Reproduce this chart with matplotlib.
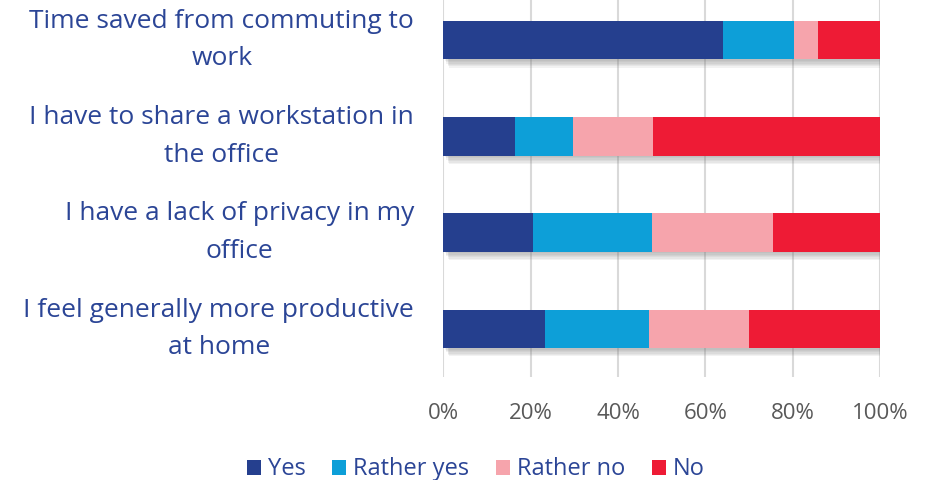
import matplotlib
matplotlib.use("Agg")
import matplotlib.pyplot as plt
import matplotlib.patheffects as pe
import numpy as np

plt.rcParams['font.family'] = ['Open Sans', 'DejaVu Sans']

categories = [
    "Time saved from commuting to\nwork",
    "I have to share a workstation in\nthe office",
    "I have a lack of privacy in my\noffice",
    "I feel generally more productive\nat home",
]
series_names = ["Yes", "Rather yes", "Rather no", "No"]
yes = [64.1, 16.4, 20.5, 23.2]
rather_yes = [16.2, 13.4, 27.4, 23.9]
rather_no = [5.6, 18.2, 27.7, 23.0]
no = [14.1, 52.0, 24.4, 29.9]
colors = ["#253F8E", "#0D9FD8", "#F6A4AC", "#EE1B35"]
tick_values = [0, 20, 40, 60, 80, 100]
tick_labels = ["0%", "20%", "40%", "60%", "80%", "100%"]

label_color = "#2B4596"
tick_color = "#595959"

fig = plt.figure(figsize=(9.31, 4.80), dpi=100)
ax = fig.add_axes([0.4762, 0.2146, 0.4690, 0.8020])

y = np.arange(len(categories))
left = np.zeros(len(categories))
for name, vals, c in zip(series_names, [yes, rather_yes, rather_no, no], colors):
    ax.barh(y, vals, left=left, height=0.4, color=c, label=name, zorder=3)
    left += np.array(vals)

# soft drop shadow beneath each whole bar, built from a few faint layers
soft_shadow = [pe.SimplePatchShadow(offset=(dx, -dy), shadow_rgbFace="#777777", alpha=0.09)
               for dx, dy in [(1, 1), (2, 2), (2, 3), (3, 4), (3, 5), (4, 6)]]
for i in range(len(categories)):
    ax.barh(y[i], left[i], height=0.4, color="none", zorder=2, path_effects=soft_shadow)

ax.set_ylim(len(categories) - 0.5, -0.5)
ax.set_xlim(0, 100)
ax.set_xticks(tick_values)
ax.set_xticklabels(tick_labels, color=tick_color, fontsize=16)
ax.set_yticks(y)
ax.set_yticklabels(categories, color=label_color, fontsize=19, ha="right", va="center",
                   multialignment="center", linespacing=1.65)
ax.tick_params(axis="y", length=0, pad=21)
ax.tick_params(axis="x", length=0, pad=19)
ax.grid(axis="x", color="#D9D9D9", linewidth=1.5, zorder=0)
for s in ax.spines.values():
    s.set_visible(False)

leg = fig.legend(loc="center", bbox_to_anchor=(0.511, 0.022), ncol=4, frameon=False,
                 fontsize=17, handlelength=0.6, handleheight=0.6, handletextpad=0.3,
                 columnspacing=1.12)
for t in leg.get_texts():
    t.set_color(label_color)

fig.savefig("out.png", dpi=100)
